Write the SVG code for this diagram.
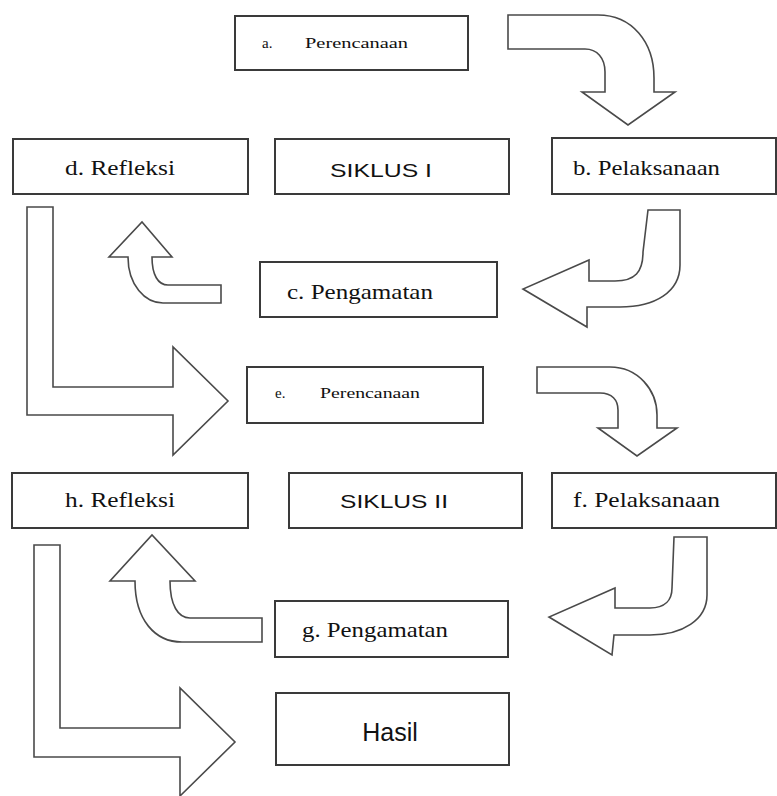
<svg xmlns="http://www.w3.org/2000/svg" width="777" height="796" viewBox="0 0 777 796">
<style>
.box{fill:#fff;stroke:#3a3a3a;stroke-width:2}
.arr{fill:#fff;stroke:#4a4a4a;stroke-width:1.6;stroke-linejoin:miter}
.ser{font-family:"Liberation Serif","Times New Roman",serif;font-size:21px;fill:#111}
.sm{font-family:"Liberation Serif","Times New Roman",serif;font-size:15px;fill:#111}
.san{font-family:"Liberation Sans",Arial,sans-serif;font-size:19px;fill:#111}
</style>
<rect width="777" height="796" fill="#fff"/>
<g id="connectors">
<path class="arr" d="M508,15 L598,15 C632,15 654,42 654,78 L654,92 L675,92 L628,125 L582,92 L605,92 L605,72 C605,58 597,49 585,49 L508,49 Z"/>
<path class="arr" d="M648,210 L680,210 L680,265 C680,292 655,307 620,307 L587,307 L587,327 L523,289 L589,260 L589,281 L615,281 C635,281 643,272 643,252 Z"/>
<path class="arr" d="M221,285 L168,285 C158,285 152,275 152,257 L172,257 L142,222 L109,257 L128,257 C128,285 145,303 163,303 L221,303 Z"/>
<path class="arr" d="M27,207 L53,207 L53,387 L173,387 L173,347 L228,401 L173,455 L173,415 L27,415 Z"/>
<path class="arr" d="M537,367 L610,367 C638,367 657,390 657,415 L657,428 L677,428 L637,456 L598,428 L618,428 L618,410 C618,400 612,393 600,393 L537,393 Z"/>
<path class="arr" d="M674,537 L707,537 L707,595 C707,620 682,635 650,635 L614,635 L612,655 L549,617 L615,588 L615,608 L650,608 C665,608 672,600 672,588 Z"/>
<path class="arr" d="M262,618 L190,618 C178,618 170,605 170,581 L195,581 L152,535 L110,581 L135,581 C135,620 155,642 182,642 L262,642 Z"/>
<path class="arr" d="M34,545 L60,545 L60,728 L180,728 L180,688 L235,742 L180,796 L180,757 L34,757 Z"/>
</g>
<g id="node-a">
<rect class="box" x="235" y="16" width="233" height="54"/>
<text class="sm" x="262" y="48">a.</text>
<text class="sm" x="305" y="48" textLength="103" lengthAdjust="spacingAndGlyphs">Perencanaan</text>
</g>
<g id="node-d">
<rect class="box" x="13" y="139" width="235" height="55"/>
<text class="ser" x="65" y="175" textLength="110" lengthAdjust="spacingAndGlyphs">d. Refleksi</text>
</g>
<g id="node-siklus1">
<rect class="box" x="275" y="139" width="234" height="55"/>
<text class="san" x="330" y="177" textLength="102" lengthAdjust="spacingAndGlyphs">SIKLUS I</text>
</g>
<g id="node-b">
<rect class="box" x="552" y="138" width="224" height="56"/>
<text class="ser" x="573" y="175" textLength="147" lengthAdjust="spacingAndGlyphs">b. Pelaksanaan</text>
</g>
<g id="node-c">
<rect class="box" x="260" y="262" width="237" height="55"/>
<text class="ser" x="287" y="299" textLength="146" lengthAdjust="spacingAndGlyphs">c. Pengamatan</text>
</g>
<g id="node-e">
<rect class="box" x="247" y="367" width="236" height="56"/>
<text class="sm" x="275" y="398">e.</text>
<text class="sm" x="320" y="398" textLength="100" lengthAdjust="spacingAndGlyphs">Perencanaan</text>
</g>
<g id="node-h">
<rect class="box" x="12" y="473" width="236" height="55"/>
<text class="ser" x="65" y="507" textLength="110" lengthAdjust="spacingAndGlyphs">h. Refleksi</text>
</g>
<g id="node-siklus2">
<rect class="box" x="289" y="473" width="233" height="55"/>
<text class="san" x="340" y="508" textLength="108" lengthAdjust="spacingAndGlyphs">SIKLUS II</text>
</g>
<g id="node-f">
<rect class="box" x="552" y="473" width="224" height="55"/>
<text class="ser" x="573" y="507" textLength="147" lengthAdjust="spacingAndGlyphs">f. Pelaksanaan</text>
</g>
<g id="node-g">
<rect class="box" x="275" y="601" width="233" height="56"/>
<text class="ser" x="302" y="637" textLength="146" lengthAdjust="spacingAndGlyphs">g. Pengamatan</text>
</g>
<g id="node-hasil">
<rect class="box" x="276" y="693" width="233" height="72"/>
<text class="san" x="390" y="741" text-anchor="middle" style="font-size:25px">Hasil</text>
</g>
</svg>
